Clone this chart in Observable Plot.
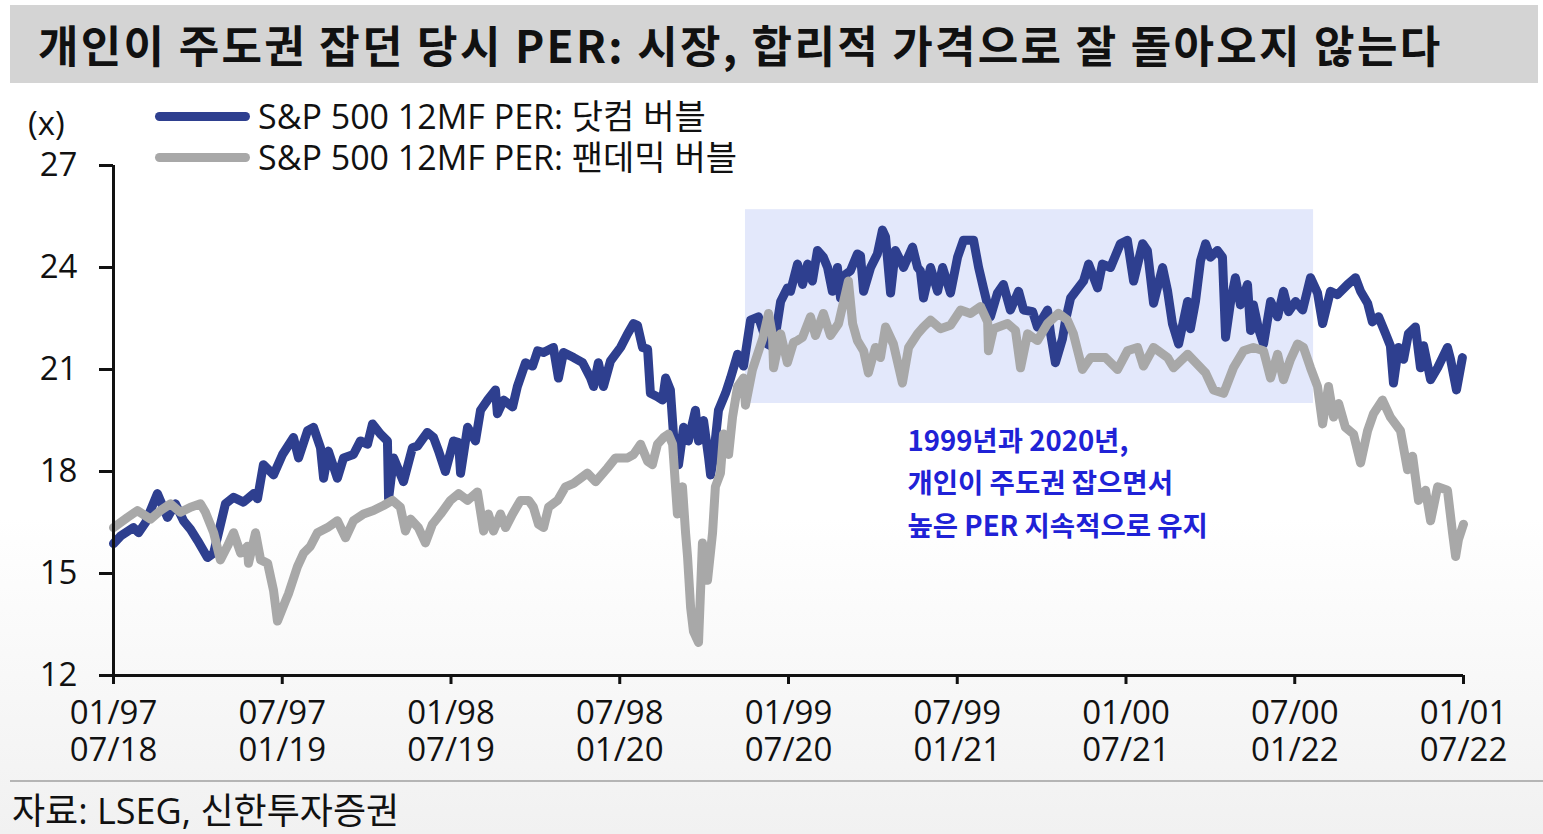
<!DOCTYPE html>
<html>
<head>
<meta charset="utf-8">
<script src="https://cdn.jsdelivr.net/npm/d3@7"></script>
<script src="https://cdn.jsdelivr.net/npm/@observablehq/plot@0.6"></script>
<style>
  html, body { margin:0; padding:0; }
  body { width:1543px; height:834px; overflow:hidden; position:relative;
         background: linear-gradient(#ffffff 0%, #ffffff 62%, #f1f1f1 100%);
         font-family: 'Open Sans','Noto Sans CJK KR',sans-serif; color:#111; }
  #title { position:absolute; left:10px; top:5px; width:1528px; height:78px; background:#d4d4d4;
           font-family:'Noto Sans CJK KR',sans-serif; font-weight:700; font-size:44px; line-height:78px;
           letter-spacing:2.3px; padding-left:28px; box-sizing:border-box; color:#111; white-space:nowrap; }
  #chart { position:absolute; left:0; top:90px; }
  .leg { position:absolute; left:155px; width:95px; height:9px; border-radius:4.5px; }
  .legtxt { position:absolute; left:258px; font-size:34px; line-height:44px; white-space:nowrap; }
  #unit { position:absolute; left:28px; top:101px; font-size:33px; line-height:44px; }
  #sep { position:absolute; left:10px; top:780px; width:1533px; height:2px; background:#b5b5b5; }
  #foot { position:absolute; left:12px; top:788px; font-size:36px; line-height:46px; white-space:nowrap; }
</style>
</head>
<body>
<div id="title"></div>
<div id="unit">(x)</div>
<div class="leg" style="top:112px;background:#2e3f8f"></div>
<div class="legtxt" id="leg1" style="top:94px"></div>
<div class="leg" style="top:153px;background:#a8a8a8"></div>
<div class="legtxt" id="leg2" style="top:135px"></div>
<div id="chart"></div>
<div id="sep"></div>
<div id="foot"></div>
<script>
const titleText = "개인이 주도권 잡던 당시 PER: 시장, 합리적 가격으로 잘 돌아오지 않는다";
const seriesNames = ["S&P 500 12MF PER: 닷컴 버블", "S&P 500 12MF PER: 팬데믹 버블"];
const sourceText = "자료: LSEG, 신한투자증권";
const annotationLines = ["1999년과 2020년,", "개인이 주도권 잡으면서", "높은 PER 지속적으로 유지"];

// x = months since the first tick (01/97 for dot-com, 07/18 for pandemic)
const xTicks = [0, 6, 12, 18, 24, 30, 36, 42, 48];
const xTopLabels = ["01/97","07/97","01/98","07/98","01/99","07/99","01/00","07/00","01/01"];
const xBottomLabels = ["07/18","01/19","07/19","01/20","07/20","01/21","07/21","01/22","07/22"];
const yTicks = [12, 15, 18, 21, 24, 27];

// highlighted period box: [month start, month end, PER low, PER high]
const highlightBox = [22.47, 42.67, 20.0, 25.7];

// dot-com bubble PER: [month, PER]
const dotcom = [
[0,15.88],[0.25,16.1],[0.71,16.35],[0.89,16.2],[1.14,16.5],[1.56,17.35],[1.92,16.65],[2.2,17.05],[2.49,16.55],[2.74,16.3],
[2.99,15.97],[3.34,15.47],[3.56,15.6],[3.98,17.05],[4.27,17.24],[4.62,17.1],[4.98,17.35],[5.12,17.2],[5.33,18.2],[5.69,17.9],
[6.01,18.5],[6.4,19.0],[6.58,18.4],[6.9,19.2],[7.11,19.3],[7.36,18.7],[7.47,17.8],[7.64,18.6],[7.96,17.8],[8.18,18.4],
[8.53,18.5],[8.78,18.9],[9.03,18.8],[9.21,19.4],[9.49,19.1],[9.74,18.9],[9.78,17.2],[9.96,18.4],[10.31,17.7],[10.63,18.7],
[10.81,18.75],[11.16,19.15],[11.38,19.0],[11.56,18.6],[11.8,18.0],[12.09,18.9],[12.27,18.85],[12.34,17.95],[12.59,19.3],[12.87,18.9],
[13.05,19.8],[13.3,20.1],[13.58,20.4],[13.65,19.7],[13.87,20.1],[14.19,19.9],[14.36,20.5],[14.65,21.2],[14.9,21.1],[15.08,21.55],
[15.29,21.5],[15.64,21.65],[15.82,20.75],[16.0,21.5],[16.36,21.35],[16.68,21.2],[16.96,20.75],[17.07,20.5],[17.24,21.2],[17.42,20.5],
[17.67,21.25],[18.03,21.65],[18.28,22.05],[18.49,22.35],[18.63,22.3],[18.81,21.65],[18.99,21.6],[19.09,20.3],[19.34,20.2],[19.52,20.1],
[19.63,20.75],[19.8,20.4],[19.91,19.1],[20.09,18.2],[20.27,19.3],[20.44,18.9],[20.69,19.8],[20.8,18.9],[20.98,19.5],[21.16,18.4],
[21.23,17.9],[21.33,18.4],[21.51,19.8],[21.76,20.3],[21.94,20.75],[22.19,21.45],[22.4,21.1],[22.65,22.45],[22.93,22.55],[23.25,21.75],
[23.47,21.65],[23.72,23.0],[23.96,23.4],[24.07,23.3],[24.32,24.1],[24.5,23.5],[24.68,24.1],[24.85,23.6],[25.03,24.5],[25.24,24.3],
[25.39,24.0],[25.56,23.3],[25.74,24.0],[25.85,23.1],[26.03,23.8],[26.2,23.9],[26.45,24.4],[26.56,24.35],[26.67,23.3],[26.92,24.0],
[27.16,24.4],[27.34,25.1],[27.45,24.9],[27.63,23.25],[27.8,24.5],[27.98,24.2],[28.09,24.0],[28.41,24.6],[28.59,24.0],[28.69,23.9],
[28.8,23.1],[29.05,24.0],[29.3,23.3],[29.48,24.0],[29.76,23.25],[30.01,24.3],[30.22,24.8],[30.58,24.8],[30.76,24.0],[30.93,23.4],
[31.18,22.55],[31.43,23.25],[31.64,23.5],[31.89,22.75],[32.18,23.3],[32.36,22.75],[32.68,22.7],[32.85,22.25],[33.21,22.75],[33.32,22.05],
[33.49,21.2],[33.74,21.9],[33.85,22.45],[34.03,23.1],[34.49,23.6],[34.67,24.1],[34.99,23.4],[35.16,24.1],[35.45,24.0],[35.8,24.7],
[36.05,24.8],[36.27,23.6],[36.59,24.7],[36.76,24.5],[36.98,22.95],[37.3,24.0],[37.48,23.3],[37.65,22.35],[37.87,21.75],[38.19,23.0],
[38.29,22.2],[38.47,23.0],[38.65,24.2],[38.83,24.7],[39.0,24.3],[39.25,24.5],[39.43,24.3],[39.54,21.95],[39.72,23.0],[39.89,23.7],
[40.07,22.9],[40.32,23.5],[40.43,22.15],[40.53,22.9],[40.71,22.2],[40.89,21.75],[41.14,23.0],[41.39,22.55],[41.6,23.3],[41.78,22.7],
[42.03,23.0],[42.28,22.75],[42.56,23.7],[42.81,23.25],[42.99,22.35],[43.27,23.3],[43.52,23.2],[43.88,23.5],[44.16,23.7],[44.34,23.3],
[44.59,22.95],[44.76,22.4],[44.98,22.55],[45.23,22.05],[45.4,21.7],[45.51,20.6],[45.69,21.65],[45.87,21.3],[46.04,22.05],[46.29,22.25],
[46.47,21.05],[46.58,21.7],[46.83,20.7],[47.08,21.05],[47.43,21.65],[47.54,21.3],[47.75,20.4],[47.96,21.35]
];

// pandemic bubble PER: [month, PER]
const pandemic = [
[0,16.35],[0.5,16.65],[0.85,16.85],[1.32,16.6],[1.67,16.85],[2.03,17.05],[2.38,16.8],[2.74,16.95],[3.09,17.05],[3.27,16.8],
[3.56,16.2],[3.8,15.4],[4.05,15.8],[4.27,16.2],[4.52,15.6],[4.76,15.8],[4.8,15.3],[5.05,16.2],[5.23,15.4],[5.48,15.3],
[5.69,14.5],[5.83,13.6],[6.12,14.2],[6.22,14.4],[6.54,15.2],[6.76,15.6],[7.0,15.8],[7.25,16.2],[7.61,16.35],[7.96,16.55],
[8.25,16.05],[8.53,16.55],[8.89,16.75],[9.24,16.85],[9.6,17.0],[9.92,17.15],[10.2,16.95],[10.38,16.25],[10.56,16.6],[10.84,16.35],
[11.09,15.9],[11.34,16.45],[11.63,16.75],[11.98,17.15],[12.27,17.35],[12.59,17.15],[12.94,17.4],[13.16,16.25],[13.33,16.75],[13.51,16.25],
[13.76,16.75],[13.94,16.35],[14.19,16.75],[14.47,17.15],[14.76,17.15],[14.93,16.95],[15.11,16.45],[15.29,16.35],[15.47,16.95],[15.79,17.15],
[16.07,17.55],[16.36,17.65],[16.85,17.95],[17.14,17.7],[17.56,18.1],[17.85,18.4],[18.28,18.4],[18.49,18.5],[18.74,18.8],[18.99,18.3],
[19.16,18.2],[19.34,18.8],[19.56,19.0],[19.73,19.1],[19.88,18.8],[20.05,16.75],[20.23,17.55],[20.34,16.2],[20.41,15.5],[20.52,14.0],
[20.62,13.3],[20.8,12.97],[20.94,15.9],[21.12,14.8],[21.3,16.2],[21.4,17.55],[21.58,17.95],[21.69,19.1],[21.87,18.5],[22.01,19.6],
[22.19,20.5],[22.4,20.75],[22.47,19.95],[22.72,21.0],[22.9,21.45],[23.08,21.9],[23.29,22.65],[23.43,22.0],[23.47,21.05],[23.72,22.05],
[23.96,21.2],[24.18,21.8],[24.32,21.85],[24.5,21.95],[24.78,22.55],[24.96,22.0],[25.24,22.65],[25.49,22.0],[25.78,22.35],[26.13,23.6],
[26.28,22.35],[26.45,21.85],[26.67,21.55],[26.84,20.9],[27.09,21.65],[27.27,21.35],[27.45,22.25],[27.73,21.75],[28.05,20.6],[28.27,21.65],
[28.59,22.05],[28.8,22.25],[29.05,22.45],[29.4,22.2],[29.76,22.3],[30.12,22.75],[30.47,22.65],[30.83,22.85],[31.08,22.4],[31.11,21.55],
[31.29,22.2],[31.79,22.35],[32.07,22.15],[32.25,21.05],[32.5,22.05],[32.85,21.85],[33.21,22.35],[33.6,22.65],[33.92,22.45],[34.13,22.05],
[34.45,21.0],[34.74,21.35],[35.27,21.35],[35.7,21.0],[36.05,21.55],[36.41,21.65],[36.62,21.1],[36.98,21.65],[37.48,21.35],[37.69,21.05],
[38.19,21.45],[38.54,21.15],[38.83,20.9],[39.11,20.4],[39.47,20.3],[39.82,21.05],[40.18,21.55],[40.53,21.65],[40.89,21.55],[41.14,20.75],
[41.39,21.45],[41.6,20.7],[41.85,21.3],[42.1,21.75],[42.31,21.65],[42.56,21.05],[42.81,20.5],[42.99,19.4],[43.2,20.5],[43.38,19.6],
[43.56,20.0],[43.8,19.3],[44.09,19.1],[44.34,18.25],[44.59,19.2],[44.8,19.7],[45.12,20.1],[45.4,19.6],[45.76,19.2],[46.01,18.05],
[46.19,18.45],[46.4,17.15],[46.65,17.45],[46.83,16.55],[47.08,17.55],[47.43,17.45],[47.61,16.2],[47.72,15.5],[47.82,16.0],[48.0,16.45]
];

document.getElementById("title").textContent = titleText;
document.getElementById("leg1").textContent = seriesNames[0];
document.getElementById("leg2").textContent = seriesNames[1];
document.getElementById("foot").textContent = sourceText;

const toObj = (arr) => arr.map(([m, v]) => ({m, v}));
const font = "'Open Sans','Noto Sans CJK KR',sans-serif";

const chart = Plot.plot({
  width: 1543,
  height: 690,
  marginTop: 75,
  marginBottom: 105,
  marginLeft: 113,
  marginRight: 80,
  style: {fontFamily: font, fontSize: "34px", color: "#111", background: "transparent", overflow: "visible"},
  x: {domain: [0, 48], axis: null},
  y: {domain: [12, 27], axis: null},
  marks: [
    Plot.rect([highlightBox], {x1: d => d[0], x2: d => d[1], y1: d => d[2], y2: d => d[3], fill: "#e3e8fb"}),
    Plot.line(toObj(dotcom), {x: "m", y: "v", stroke: "#2e3f8f", strokeWidth: 9, strokeLinejoin: "round", strokeLinecap: "round"}),
    Plot.line(toObj(pandemic), {x: "m", y: "v", stroke: "#a8a8a8", strokeWidth: 9, strokeLinejoin: "round", strokeLinecap: "round"}),
    Plot.ruleX([0], {y1: 12, y2: 27, stroke: "#111", strokeWidth: 3}),
    Plot.ruleY([12], {x1: 0, x2: 48, stroke: "#111", strokeWidth: 3}),
    Plot.axisY({ticks: yTicks, tickSize: 14, tickPadding: 22, fontSize: 33, strokeWidth: 3, stroke: "#111", fill: "#111",
      label: null, tickFormat: d => String(d)}),
    Plot.axisX({ticks: xTicks, tickSize: 9, strokeWidth: 3, stroke: "#111", text: null, label: null}),
    Plot.text(xTicks, {x: d => d, y: () => 12, text: (d, i) => xTopLabels[i],
      dy: 38, lineAnchor: "middle", fontSize: 33, fill: "#111", textAnchor: "middle"}),
    Plot.text(xTicks, {x: d => d, y: () => 12, text: (d, i) => xBottomLabels[i],
      dy: 75, lineAnchor: "middle", fontSize: 33, fill: "#111", textAnchor: "middle"}),
    Plot.text([annotationLines.join("\n")], {x: () => 28.23, y: () => 19.5, text: d => d, textAnchor: "start",
      lineAnchor: "top", lineHeight: 1.55, fontSize: 27.5, fontWeight: "bold", fill: "#1f22d6",
      fontFamily: "'Noto Sans CJK KR',sans-serif"})
  ]
});
document.getElementById("chart").appendChild(chart);
</script>
</body>
</html>
